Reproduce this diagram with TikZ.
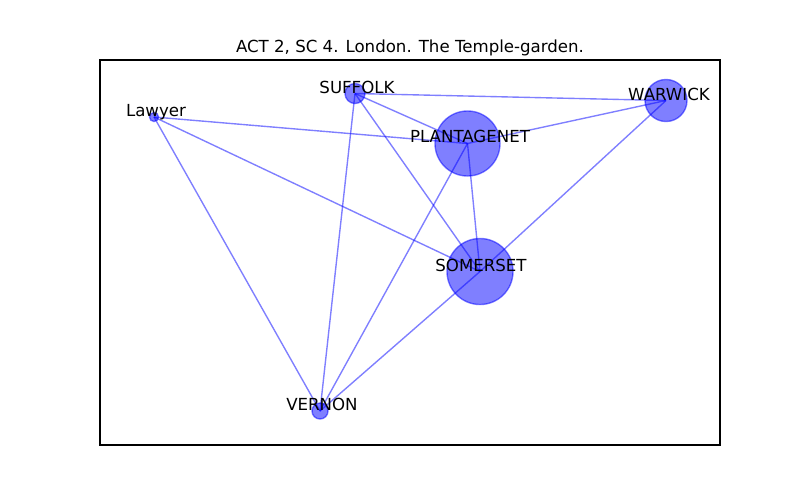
\documentclass[tikz,border=0pt]{standalone}
\usepackage{fontspec}
\setmainfont{DejaVu Sans}
\begin{document}
\begin{tikzpicture}[x=0.01in,y=-0.01in,
  edge/.style={draw=blue, draw opacity=0.5, line width=1pt},
  vtx/.style={circle, inner sep=0pt, outer sep=0pt, fill=blue, fill opacity=0.5, draw=blue, draw opacity=0.5, line width=1pt},
  lab/.style={anchor=base, inner sep=0pt, font=\fontsize{12}{14}\selectfont, text=black}]
\useasboundingbox (0,0) rectangle (800,500);
\node[lab] (title) at (410,52) {ACT 2, SC 4. London. The Temple-garden.};
\draw[line width=0.8pt] (100,60) rectangle (720,445);
% centres
\coordinate (law) at (154,117);
\coordinate (suf) at (355,93.5);
\coordinate (pla) at (467.5,143.5);
\coordinate (war) at (666,100.5);
\coordinate (som) at (480,271.5);
\coordinate (ver) at (320,411);
% edges
\draw[edge] (law) -- (pla);
\draw[edge] (law) -- (som);
\draw[edge] (law) -- (ver);
\draw[edge] (suf) -- (war);
\draw[edge] (suf) -- (pla);
\draw[edge] (suf) -- (som);
\draw[edge] (suf) -- (ver);
\draw[edge] (pla) -- (war);
\draw[edge] (pla) -- (som);
\draw[edge] (pla) -- (ver);
\draw[edge] (war) -- (som);
\draw[edge] (som) -- (ver);
% nodes
\node[vtx, minimum size=0.09in] (lawn) at (law) {};
\node[vtx, minimum size=0.20in] (sufn) at (suf) {};
\node[vtx, minimum size=0.65in] (plan) at (pla) {};
\node[vtx, minimum size=0.42in] (warn) at (war) {};
\node[vtx, minimum size=0.66in] (somn) at (som) {};
\node[vtx, minimum size=0.16in] (vern) at (ver) {};
% labels
\node[lab] (lawl) at (156,116) {Lawyer};
\node[lab] (sufl) at (357,93) {SUFFOLK};
\node[lab] (plal) at (470,142) {PLANTAGENET};
\node[lab] (warl) at (669,100) {WARWICK};
\node[lab] (soml) at (481,271) {SOMERSET};
\node[lab] (verl) at (322,410) {VERNON};
\end{tikzpicture}
\end{document}
